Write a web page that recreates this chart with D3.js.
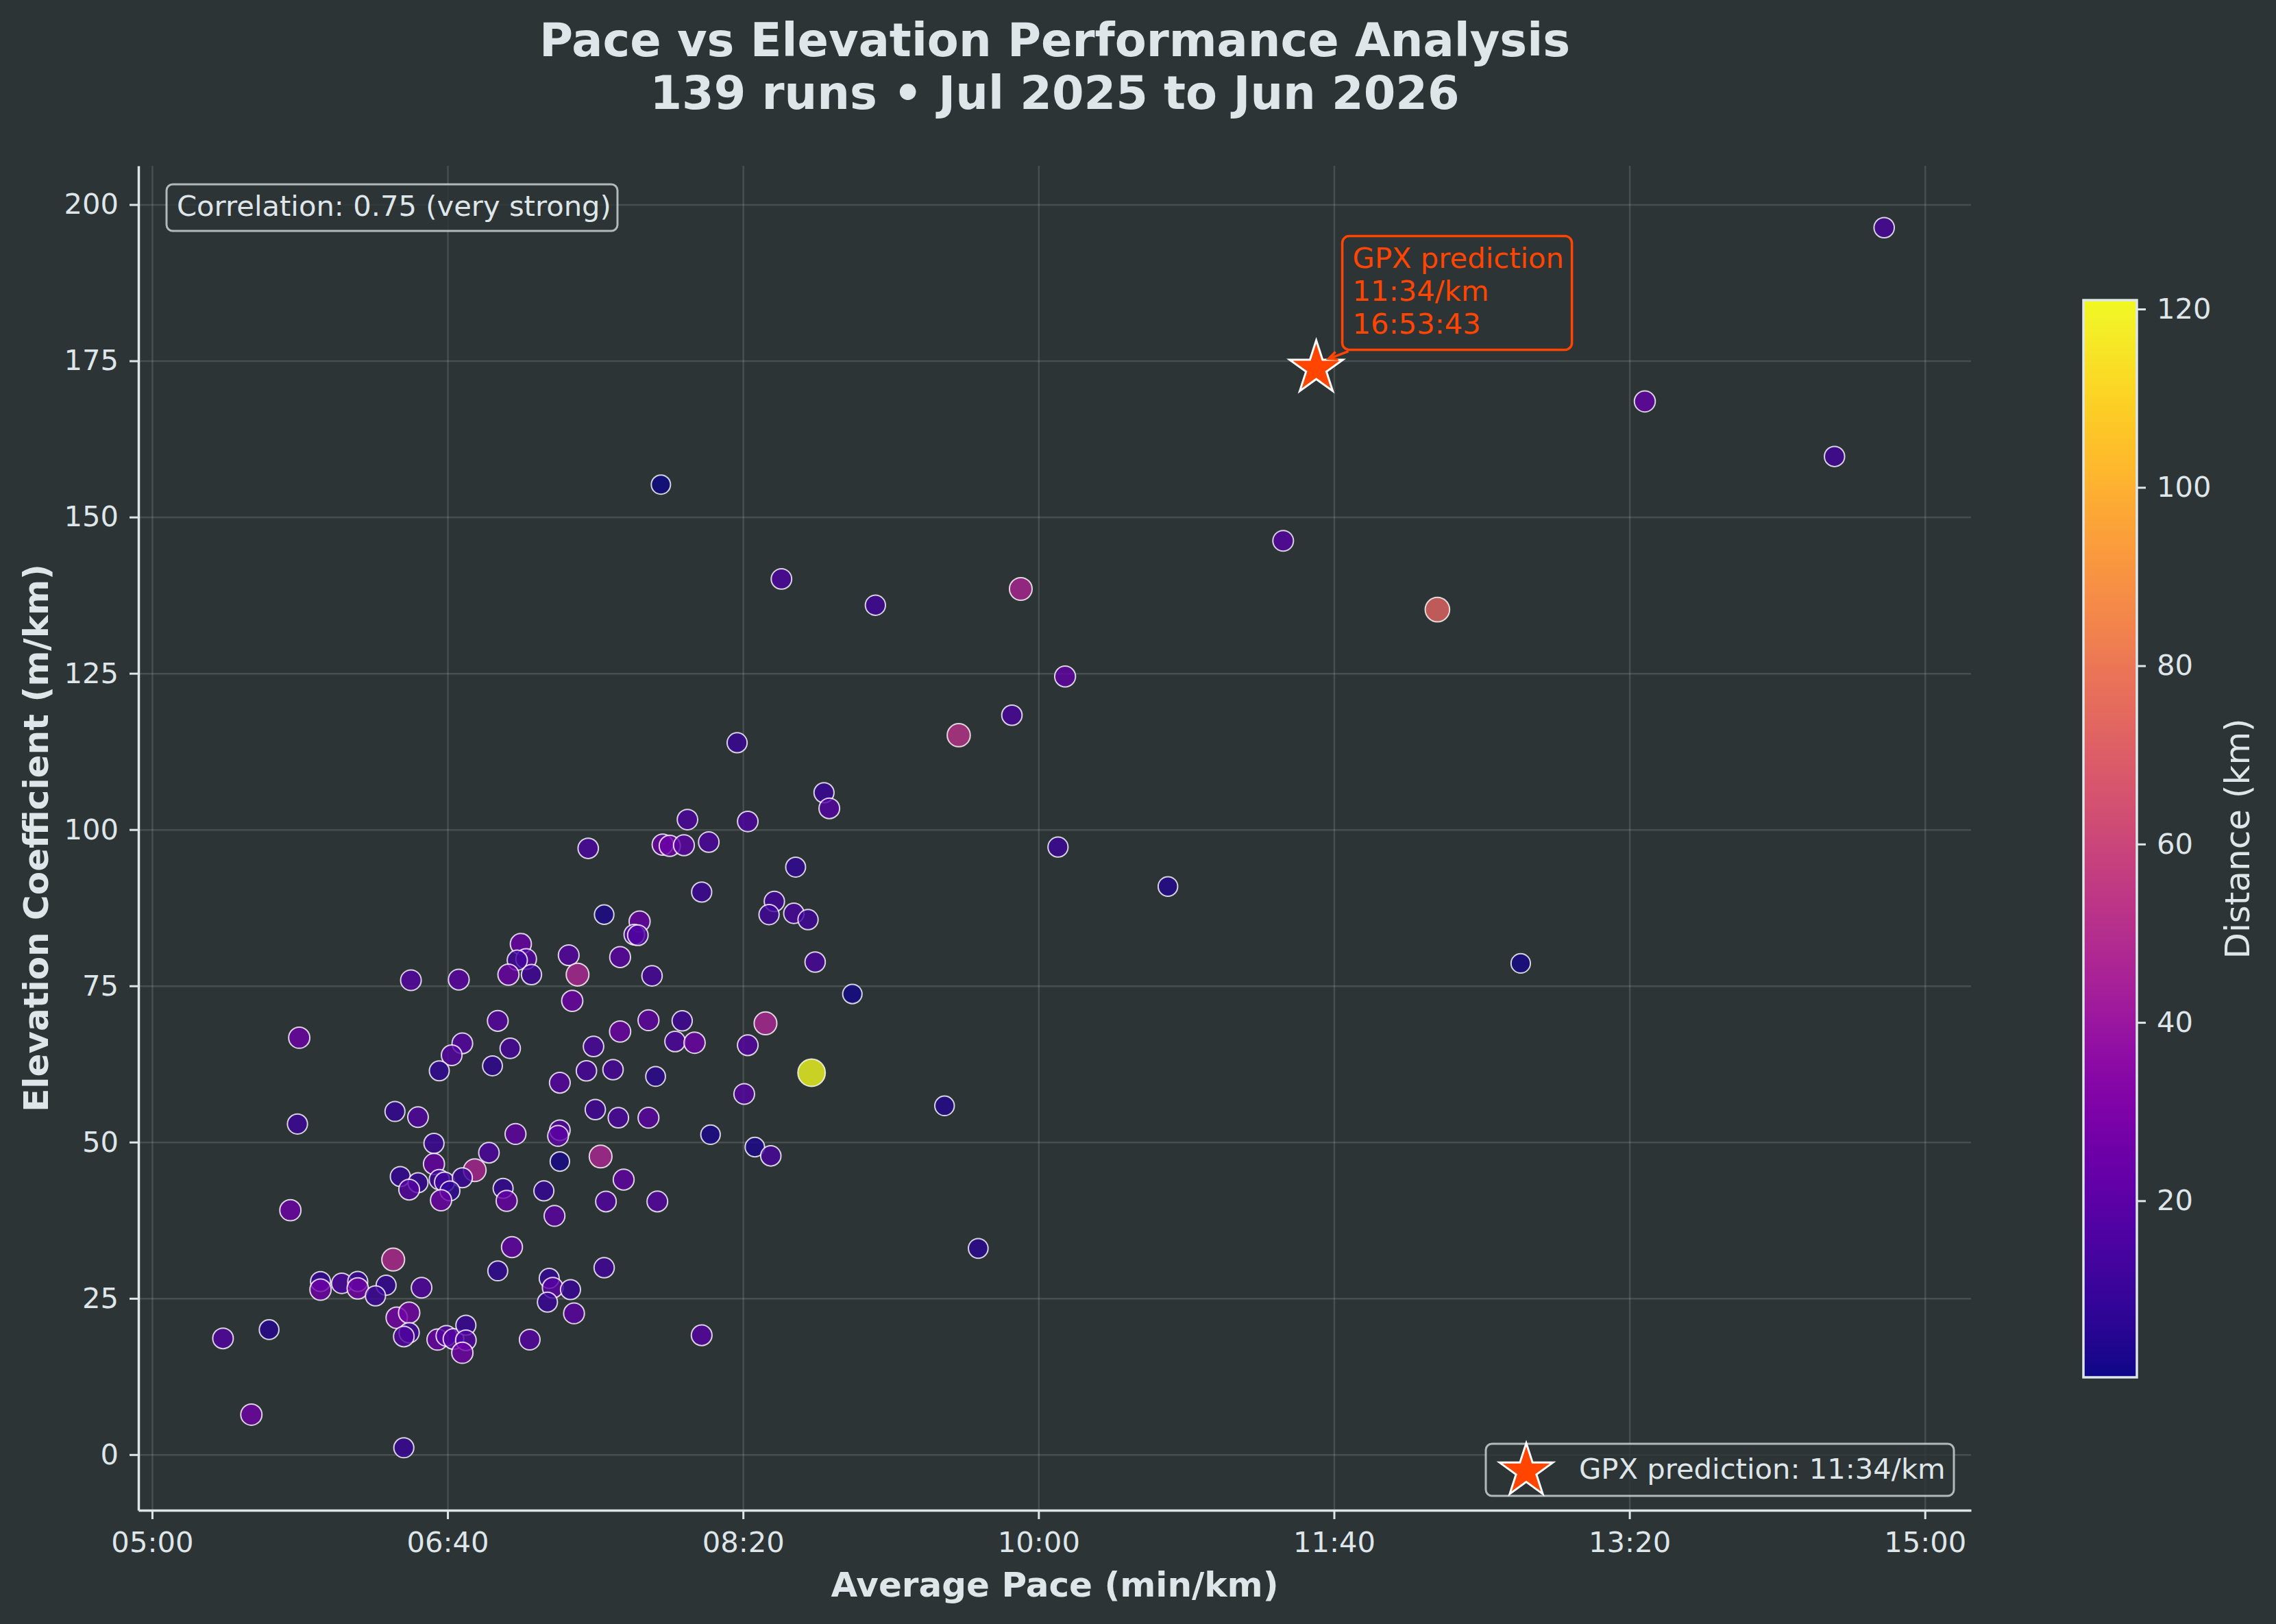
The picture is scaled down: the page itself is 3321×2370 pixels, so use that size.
<!DOCTYPE html>
<html>
<head>
<meta charset="utf-8">
<script src="https://cdn.jsdelivr.net/npm/d3@7"></script>
<style>
body { margin: 0; background: #2d3436; }
text { font-family: "DejaVu Sans", sans-serif; fill: #dfe6e9; }
</style>
</head>
<body>
<svg width="3321" height="2370"></svg>
<script>
// pace in min/km, elevation coefficient in m/km, distance in km (one entry per run)
var pace = [7.08, 7.11, 7.06, 7.01, 7.14, 6.46, 6.73, 6.95, 5.83, 6.75, 6.69, 7.02, 6.92, 6.62,
    8.79, 8.82, 8.02, 8.36, 7.46, 7.88, 7.92, 8.00, 8.14, 8.63, 8.10, 8.51, 8.48, 8.62, 8.70, 7.55,
    7.75, 7.72, 7.74, 7.35, 7.40, 7.64, 7.82, 8.74, 8.95, 7.37, 7.80, 7.99, 7.64, 7.49, 7.95, 8.06,
    8.36, 8.46, 8.72, 7.45, 7.60, 7.30, 7.84, 8.34,
    6.37, 6.50, 5.82, 6.59, 7.05, 6.90, 6.59, 6.82, 6.40, 6.50, 6.45, 6.62, 6.65, 6.75, 6.68, 6.63,
    6.98, 7.00, 5.78, 7.03, 6.95, 6.36, 5.95, 5.95, 6.07, 6.16, 6.16, 6.32, 6.26, 6.52, 6.38, 6.45,
    6.45, 6.42, 6.61, 6.66, 6.70, 6.77, 6.77, 6.75, 7.13, 5.40, 5.66, 5.56, 6.42,
    7.50, 7.63, 7.80, 7.30, 7.29, 8.15, 8.40, 8.49, 7.30, 7.53, 7.66, 7.21, 7.56, 7.85, 7.27, 7.55,
    7.24, 7.26, 7.36, 7.23, 7.38, 8.10,
    7.87, 8.55, 9.08, 9.90, 10.15, 9.85, 9.55, 8.30, 10.11, 10.73, 9.47, 9.66,
    14.77, 13.42, 14.49, 11.38, 12.25, 12.72];

var elevation = [81.7, 79.3, 79.1, 76.8, 76.8, 75.9, 76.0, 69.4, 66.7, 65.8, 63.9, 65.0, 62.2, 61.4,
    105.9, 103.4, 101.6, 101.3, 97.0, 97.6, 97.4, 97.5, 98.0, 94.0, 90.0, 88.5, 86.4, 86.6, 85.6, 86.4,
    85.3, 83.2, 83.1, 79.9, 76.8, 79.6, 76.6, 78.8, 73.7, 72.6, 69.5, 69.4, 67.7, 65.3, 66.1, 65.9,
    65.5, 69.0, 61.1, 61.4, 61.6, 59.5, 60.5, 57.7,
    54.9, 54.0, 52.9, 49.8, 51.3, 48.3, 46.5, 45.5, 44.5, 43.5, 42.4, 44.0, 43.6, 44.3, 42.2, 40.7,
    42.6, 40.6, 39.1, 33.2, 29.4, 31.2, 27.7, 26.4, 27.4, 27.7, 26.6, 27.1, 25.4, 26.7, 21.9, 22.7,
    19.5, 18.9, 18.4, 19.0, 18.5, 20.7, 18.3, 16.3, 18.4, 18.6, 20.0, 6.4, 1.1,
    55.2, 53.9, 53.9, 51.9, 51.0, 51.2, 49.2, 47.8, 46.9, 47.7, 44.0, 42.2, 40.5, 40.5, 38.2, 29.9,
    28.2, 26.7, 26.4, 24.4, 22.6, 19.1,
    155.2, 140.1, 135.9, 138.5, 124.5, 118.3, 115.1, 113.9, 97.2, 90.9, 55.8, 33.0,
    196.3, 168.5, 159.7, 146.2, 135.2, 78.6];

var distance = [24, 18, 12, 24, 12, 18, 20, 19, 25, 18, 18, 14, 7, 8,
    10, 18, 16, 16, 15, 24, 25, 20, 16, 8, 11, 13, 12, 14, 12, 3,
    23, 17, 17, 19, 47, 20, 14, 14, 1.5, 25, 21, 12, 25, 15, 16, 25,
    18, 47, 121, 14, 14, 19, 6, 18,
    9, 17, 11, 11, 21, 16, 23, 46, 9, 9, 19, 11, 12, 10, 8, 25,
    9, 23, 25, 22, 8, 48, 9, 26, 15, 10, 27, 9, 11, 17, 28, 27,
    12, 17, 24, 18, 18, 10, 17, 26, 18, 17, 5, 26, 10,
    13, 15, 20, 17, 20, 3, 3, 14, 2, 47, 21, 9, 17, 18, 20, 13,
    9, 20, 10, 10, 20, 19,
    0.2, 16, 12, 46, 21, 14, 52, 10, 11, 4, 4, 6,
    14, 22, 13, 18, 73, 2];

var xTickSec = [300, 400, 500, 600, 700, 800, 900];
var yTicks = [0, 25, 50, 75, 100, 125, 150, 175, 200];
var cbTicks = [20, 40, 60, 80, 100, 120];
var xDomain = [4.923, 15.26],
    yDomain = [-8.9, 206.2];

var gpxPace = 11 + 34 / 60,
    gpxElev = 173.8;
var gpxLines = ["GPX prediction", "11:34/km", "16:53:43"];

var runs = pace.map(function(p, i) {
    return {pace: p, elev: elevation[i], dist: distance[i]};
});

var svg = d3.select("svg"),
    margin = {top: 242, left: 202},
    width = 2674,
    height = 1962,
    g = svg.append("g").attr("transform", "translate(" + margin.left + "," + margin.top + ")");

var light = "#dfe6e9",
    bg = "#2d3436",
    orange = "#ff4500";

var x = d3.scaleLinear().domain(xDomain).range([0, width]);
var y = d3.scaleLinear().domain(yDomain).range([height, 0]);
var color = d3.scaleSequential(d3.interpolatePlasma).domain(d3.extent(distance));
var radius = function(d) { return Math.sqrt(196 + 1.68 * d); };

function fmtPace(m) {
    var s = Math.round(m * 60);
    return d3.format("02")(Math.floor(s / 60)) + ":" + d3.format("02")(s % 60);
}

// grid lines
g.append("g")
    .attr("class", "grid")
    .attr("transform", "translate(0," + height + ")")
    .call(d3.axisBottom(x).tickValues(xTickSec.map(function(s) { return s / 60; })).tickSize(-height).tickFormat(""));
g.append("g")
    .attr("class", "grid")
    .call(d3.axisLeft(y).tickValues(yTicks).tickSize(-width).tickFormat(""));
g.selectAll(".grid .domain").remove();
g.selectAll(".grid line")
    .attr("stroke", light)
    .attr("stroke-opacity", 0.15)
    .attr("stroke-width", 2.5);

// axes
var xAxis = g.append("g")
    .attr("transform", "translate(0," + height + ")")
    .call(d3.axisBottom(x)
        .tickValues(xTickSec.map(function(s) { return s / 60; }))
        .tickFormat(fmtPace)
        .tickSize(13).tickSizeOuter(0).tickPadding(18));
var yAxis = g.append("g")
    .call(d3.axisLeft(y).tickValues(yTicks).tickSize(13).tickSizeOuter(0).tickPadding(16));

[xAxis, yAxis].forEach(function(a) {
    a.select(".domain").attr("stroke", light).attr("stroke-width", 3.5);
    a.selectAll(".tick line").attr("stroke", light).attr("stroke-width", 3);
    a.selectAll(".tick text")
        .attr("fill", light)
        .style("font-size", "41.7px")
        .style("font-family", "DejaVu Sans");
});

// runs
g.selectAll(".run")
    .data(runs)
    .enter().append("circle")
    .attr("class", "run")
    .attr("cx", function(d) { return x(d.pace); })
    .attr("cy", function(d) { return y(d.elev); })
    .attr("r", function(d) { return radius(d.dist); })
    .attr("fill", function(d) { return color(d.dist); })
    .attr("fill-opacity", 0.8)
    .attr("stroke", "white")
    .attr("stroke-opacity", 0.8)
    .attr("stroke-width", 2);

// GPX star + annotation
var star = d3.symbol().type(d3.symbolStar).size(1880);
var sx = x(gpxPace), sy = y(gpxElev);

g.append("path")
    .attr("d", star())
    .attr("transform", "translate(" + sx + "," + sy + ")")
    .attr("fill", orange)
    .attr("stroke", "white")
    .attr("stroke-width", 3);

g.append("line")
    .attr("x1", sx + 47).attr("y1", sy - 25)
    .attr("x2", sx + 18).attr("y2", sy - 14)
    .attr("stroke", orange)
    .attr("stroke-width", 3.5);
g.append("path")
    .attr("d", "M" + (sx + 28) + "," + (sy - 24) + "L" + (sx + 18) + "," + (sy - 14) + "L" + (sx + 32) + "," + (sy - 13))
    .attr("fill", "none")
    .attr("stroke", orange)
    .attr("stroke-width", 3.5);

g.append("rect")
    .attr("x", sx + 38).attr("y", sy - 193)
    .attr("width", 335).attr("height", 166)
    .attr("rx", 10)
    .attr("fill", bg)
    .attr("stroke", orange)
    .attr("stroke-width", 3.5);

g.selectAll(".gpx-label")
    .data(gpxLines)
    .enter().append("text")
    .attr("class", "gpx-label")
    .attr("x", sx + 53)
    .attr("y", function(d, i) { return sy - 147 + i * 48; })
    .style("fill", orange)
    .style("font-size", "41.7px")
    .text(function(d) { return d; });

// correlation box
g.append("rect")
    .attr("x", 41).attr("y", 27)
    .attr("width", 658).attr("height", 68)
    .attr("rx", 9)
    .attr("fill", bg).attr("fill-opacity", 0.8)
    .attr("stroke", light).attr("stroke-opacity", 0.75)
    .attr("stroke-width", 3);
g.append("text")
    .attr("x", 56).attr("y", 73)
    .style("font-size", "41.7px")
    .text("Correlation: 0.75 (very strong)");

// legend
var legend = g.append("g").attr("transform", "translate(" + (width - 708) + "," + (height - 97) + ")");
legend.append("rect")
    .attr("width", 683).attr("height", 76)
    .attr("rx", 9)
    .attr("fill", bg).attr("fill-opacity", 0.8)
    .attr("stroke", light).attr("stroke-opacity", 0.75)
    .attr("stroke-width", 3);
legend.append("path")
    .attr("d", star())
    .attr("transform", "translate(59,40)")
    .attr("fill", orange)
    .attr("stroke", "white")
    .attr("stroke-width", 3);
legend.append("text")
    .attr("x", 136).attr("y", 51)
    .style("font-size", "41.7px")
    .text("GPX prediction: " + fmtPace(gpxPace) + "/km");

// axis titles
svg.append("text")
    .attr("x", margin.left + width / 2).attr("y", 2330)
    .attr("text-anchor", "middle")
    .style("font-size", "50px").style("font-weight", "bold")
    .text("Average Pace (min/km)");
svg.append("text")
    .attr("transform", "translate(70," + (margin.top + height / 2) + ") rotate(-90)")
    .attr("text-anchor", "middle")
    .style("font-size", "50px").style("font-weight", "bold")
    .text("Elevation Coefficient (m/km)");

// title
svg.selectAll(".title")
    .data(["Pace vs Elevation Performance Analysis", "139 runs \u2022 Jul 2025 to Jun 2026"])
    .enter().append("text")
    .attr("class", "title")
    .attr("x", margin.left + width / 2)
    .attr("y", function(d, i) { return 82 + i * 77; })
    .attr("text-anchor", "middle")
    .style("font-size", "67px").style("font-weight", "bold")
    .text(function(d) { return d; });

// colorbar
var cbTop = 438, cbBottom = 2010, cbLeft = 3040, cbWidth = 78;
var cb = d3.scaleLinear().domain(color.domain()).range([cbBottom, cbTop]);

var grad = svg.append("defs").append("linearGradient")
    .attr("id", "plasma")
    .attr("x1", 0).attr("y1", 1).attr("x2", 0).attr("y2", 0);
grad.selectAll("stop")
    .data(d3.range(0, 1.0001, 0.02))
    .enter().append("stop")
    .attr("offset", function(t) { return t; })
    .attr("stop-color", function(t) { return d3.interpolatePlasma(t); });

svg.append("rect")
    .attr("x", cbLeft).attr("y", cbTop)
    .attr("width", cbWidth).attr("height", cbBottom - cbTop)
    .attr("fill", "url(#plasma)")
    .attr("stroke", light)
    .attr("stroke-width", 3.5);

var cbAxis = svg.append("g")
    .attr("transform", "translate(" + (cbLeft + cbWidth) + ",0)")
    .call(d3.axisRight(cb).tickValues(cbTicks).tickSize(13).tickSizeOuter(0).tickPadding(16));
cbAxis.select(".domain").remove();
cbAxis.selectAll(".tick line").attr("stroke", light).attr("stroke-width", 3);
cbAxis.selectAll(".tick text")
    .attr("fill", light)
    .style("font-size", "41.7px")
    .style("font-family", "DejaVu Sans");

svg.append("text")
    .attr("transform", "translate(3282," + ((cbTop + cbBottom) / 2) + ") rotate(-90)")
    .attr("text-anchor", "middle")
    .style("font-size", "50px")
    .text("Distance (km)");
</script>
</body>
</html>
